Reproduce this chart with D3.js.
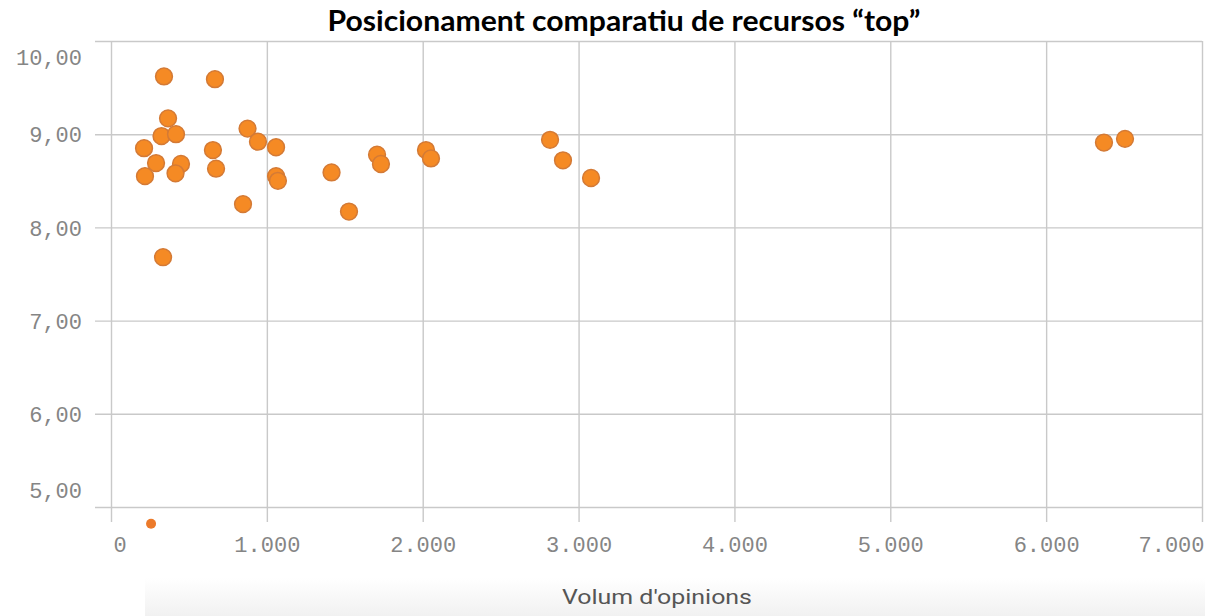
<!DOCTYPE html>
<html>
<head>
<meta charset="utf-8">
<script src="https://cdn.jsdelivr.net/npm/d3@7"></script>
<style>
  html, body { margin: 0; padding: 0; background: #fff; }
  svg { display: block; }
</style>
</head>
<body>
<div id="chart"></div>
<script>
// ── Data ──────────────────────────────────────────────────────────────────
const titleText = "Posicionament comparatiu de recursos \u201Ctop\u201D";
const xTitle = "Volum d'opinions";
const xTicks = [0, 1000, 2000, 3000, 4000, 5000, 6000, 7000];
const yTicks = [5, 6, 7, 8, 9, 10];

// volum d'opinions, puntuació
const opinions = [340, 667, 366, 324, 417, 212, 289, 449, 414, 218, 654, 674, 876, 943, 1059, 1059, 1071, 847, 334,
                  1415, 1527, 1707, 1732, 2021, 2053, 2817, 2900, 3080, 6371, 6506];
const scores   = [9.62, 9.59, 9.17, 8.98, 9.00, 8.85, 8.69, 8.68, 8.58, 8.55, 8.83, 8.63, 9.06, 8.92, 8.86, 8.55, 8.50, 8.25, 7.68,
                  8.59, 8.17, 8.78, 8.68, 8.83, 8.74, 8.94, 8.72, 8.53, 8.91, 8.95];
// one resource below the visible range (drawn as a small marker)
const outOpinions = [257];
const outScores   = [4.82];

// ── Setup ─────────────────────────────────────────────────────────────────
const width = 1205, height = 616;
const locale = d3.formatLocale({ decimal: ",", thousands: ".", grouping: [3], currency: ["", "€"] });
const fmtX = locale.format(",.0f");
const fmtY = locale.format(".2f");

const svg = d3.select("#chart").append("svg").attr("width", width).attr("height", height);

const defs = svg.append("defs");
const grad = defs.append("linearGradient").attr("id", "band").attr("x1", 0).attr("y1", 0).attr("x2", 0).attr("y2", 1);
grad.append("stop").attr("offset", "0%").attr("stop-color", "#ffffff");
grad.append("stop").attr("offset", "100%").attr("stop-color", "#f1f1f1");

svg.append("rect").attr("x", 145).attr("y", 578).attr("width", width - 145).attr("height", height - 578)
  .attr("fill", "url(#band)");

const x = d3.scaleLinear().domain([0, 7000]).range([111, 1202]);
const y = d3.scaleLinear().domain([5, 10]).range([507, 41]);

const gridColor = "#c9c9c9";
const labelColor = "#858585";
const monoFont = "'Liberation Mono', 'DejaVu Sans Mono', monospace";

// ── Y axis / horizontal grid ──────────────────────────────────────────────
const yAxis = svg.append("g")
  .attr("transform", `translate(${x.range()[1]},0)`)
  .call(d3.axisLeft(y).tickValues(yTicks).tickSize(x.range()[1] - 95).tickPadding(13).tickFormat(fmtY));
yAxis.select(".domain").remove();
yAxis.selectAll("line").attr("stroke", gridColor).attr("stroke-width", 1.4);
yAxis.selectAll("text")
  .attr("fill", labelColor)
  .attr("font-family", monoFont)
  .attr("font-size", "22px")
  .attr("dy", d => d === 10 ? "1.05em" : d === 5 ? "-0.45em" : "0.35em");

// ── X axis / vertical grid ────────────────────────────────────────────────
const xAxis = svg.append("g")
  .attr("transform", `translate(0,${y.range()[1]})`)
  .call(d3.axisBottom(x).tickValues(xTicks).tickSize(522 - y.range()[1]).tickFormat(fmtX));
xAxis.select(".domain").remove();
xAxis.selectAll("line").attr("stroke", gridColor).attr("stroke-width", 1.4);
xAxis.selectAll("text")
  .attr("fill", labelColor)
  .attr("font-family", monoFont)
  .attr("font-size", "22px")
  .attr("y", 544 - y.range()[1])
  .attr("dy", "0.35em")
  .attr("text-anchor", d => d === 0 ? "start" : d === 7000 ? "end" : "middle")
  .attr("dx", d => d === 0 ? 2 : d === 7000 ? 2 : 0);

// ── Points ────────────────────────────────────────────────────────────────
const points = opinions.map((v, i) => ({ v, s: scores[i] }));
svg.append("g").selectAll("circle")
  .data(points).join("circle")
  .attr("cx", d => x(d.v))
  .attr("cy", d => y(d.s))
  .attr("r", 8.4)
  .attr("fill", "#f58a24")
  .attr("stroke", "#d47a35")
  .attr("stroke-width", 1.5);

svg.append("g").selectAll("circle")
  .data(outOpinions.map((v, i) => ({ v, s: outScores[i] }))).join("circle")
  .attr("cx", d => x(d.v))
  .attr("cy", d => y(d.s))
  .attr("r", 5)
  .attr("fill", "#ec7a2a");

// ── Titles ────────────────────────────────────────────────────────────────
svg.append("text")
  .attr("x", 624).attr("y", 31)
  .attr("text-anchor", "middle")
  .attr("font-family", "Lato, 'Open Sans', sans-serif")
  .attr("font-weight", "bold")
  .attr("font-size", "28px")
  .attr("textLength", 593)
  .attr("lengthAdjust", "spacingAndGlyphs")
  .attr("fill", "#000")
  .text(titleText);

svg.append("text")
  .attr("x", 657).attr("y", 604)
  .attr("text-anchor", "middle")
  .attr("font-family", "Roboto, 'Open Sans', sans-serif")
  .attr("font-size", "20px")
  .attr("textLength", 190)
  .attr("lengthAdjust", "spacingAndGlyphs")
  .attr("fill", "#555")
  .text(xTitle);
</script>
</body>
</html>
